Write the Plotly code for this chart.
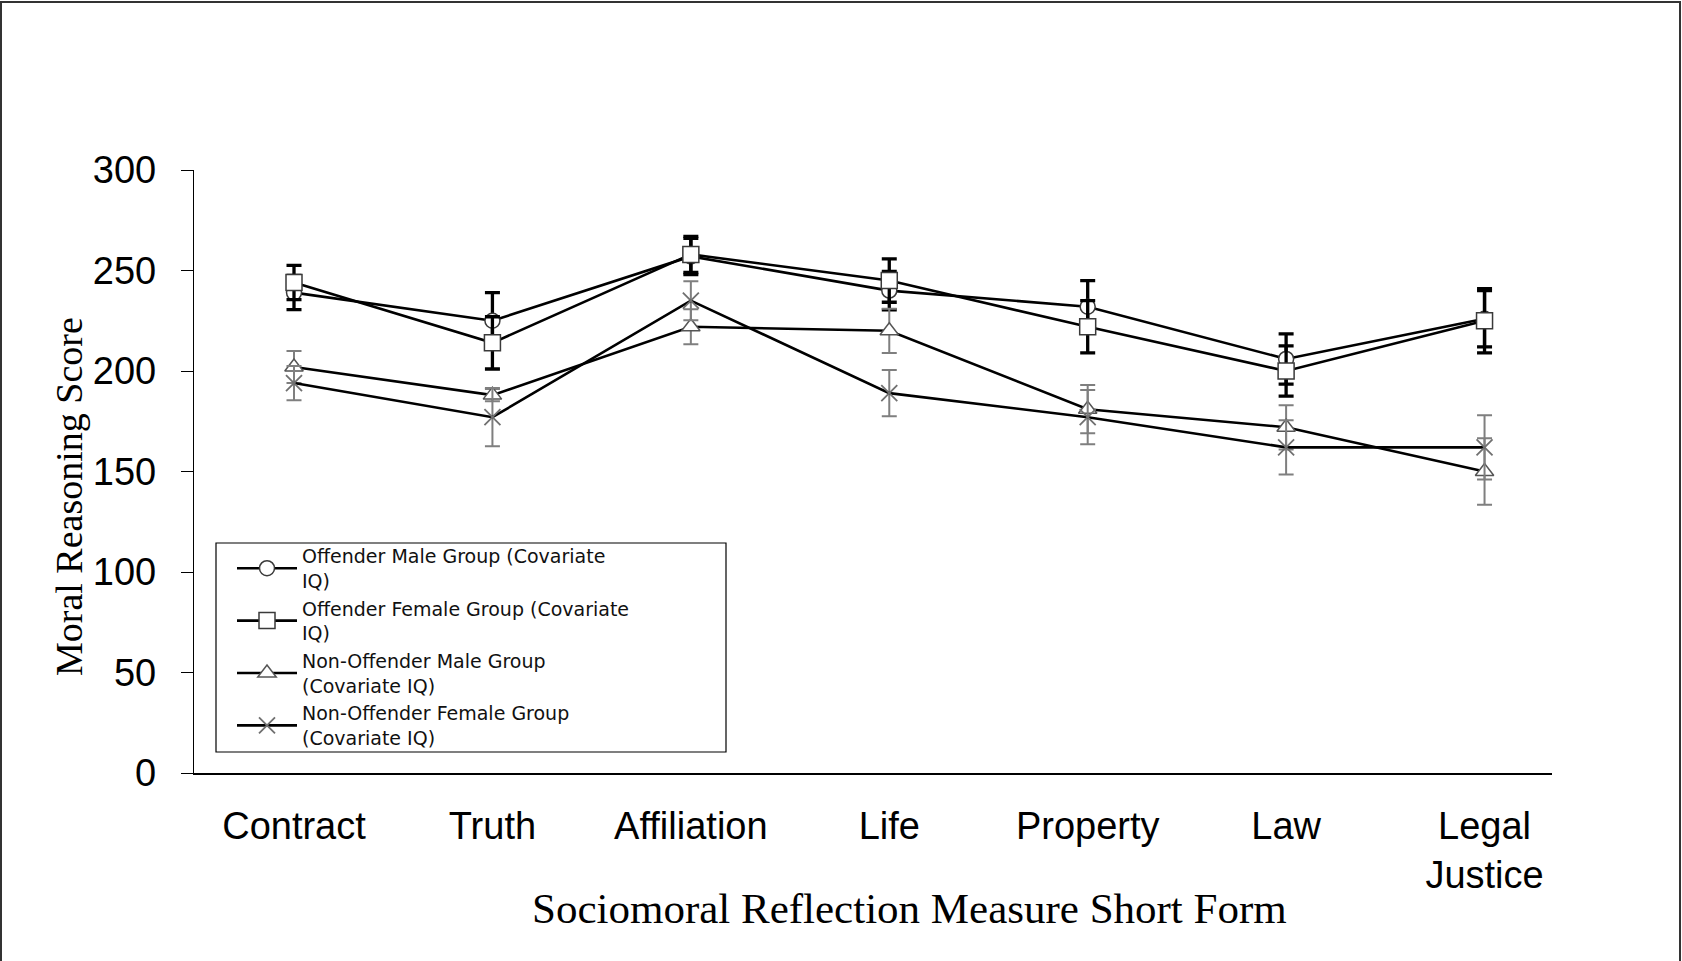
import plotly.graph_objects as go

categories = ["Contract", "Truth", "Affiliation", "Life", "Property", "Law", "Legal<br>Justice"]

offender_male = [239, 225, 257, 240, 232, 206, 226]
offender_male_err = [8.5, 14, 9, 9.6, 13, 12.5, 14]

offender_female = [244, 214, 258, 245, 222, 200, 225]
offender_female_err = [8.5, 13, 9, 10.8, 13, 12.5, 16]

nonoffender_male = [202, 188, 222, 220, 181, 172, 150]
nonoffender_male_err = [8, 3, 8.7, 11, 12, 11, 16.5]

nonoffender_female = [194, 177, 235, 189, 177, 162, 162]
nonoffender_female_err = [8.5, 14.5, 9.7, 11.5, 13.5, 13.5, 16]

series_names = [
    "Offender Male Group (Covariate<br>IQ)",
    "Offender Female Group (Covariate<br>IQ)",
    "Non-Offender Male Group<br>(Covariate IQ)",
    "Non-Offender Female Group<br>(Covariate IQ)",
]

y_ticks = [0, 50, 100, 150, 200, 250, 300]

W, H = 1682, 961
ML, MR, MT, MB = 194, 130, 170, 188
PW, PH = W - ML - MR, H - MT - MB


def px(xp):
    return (xp - ML) / PW


def py(yp):
    return (H - MB - yp) / PH


fig = go.Figure()

specs = [
    (offender_male, offender_male_err, series_names[0],
     dict(symbol="circle", size=15, color="white", line=dict(color="#3a3a3a", width=1.5)),
     dict(color="black", thickness=3.3, width=7.5)),
    (offender_female, offender_female_err, series_names[1],
     dict(symbol="square", size=16, color="white", line=dict(color="#3a3a3a", width=1.5)),
     dict(color="black", thickness=3.3, width=7.5)),
    (nonoffender_male, nonoffender_male_err, series_names[2],
     dict(symbol="triangle-up", size=16, color="white", line=dict(color="#555555", width=1.5)),
     dict(color="#7f7f7f", thickness=2, width=7.5)),
    (nonoffender_female, nonoffender_female_err, series_names[3],
     dict(symbol="x-thin", size=16, color="#707070", line=dict(color="#707070", width=1.8)),
     dict(color="#7f7f7f", thickness=2, width=7.5)),
]

for vals, errs, name, marker, err in specs:
    fig.add_trace(go.Scatter(
        x=categories, y=vals, name=name, mode="lines+markers",
        line=dict(color="black", width=2.6),
        marker=marker,
        error_y=dict(type="data", array=errs, visible=True, **err),
    ))

# legend box
fig.add_shape(type="rect", xref="paper", yref="paper",
              x0=px(216), x1=px(726), y0=py(752), y1=py(543),
              line=dict(color="black", width=1.2), fillcolor="white", layer="above")

# figure border
fig.add_shape(type="rect", xref="paper", yref="paper",
              x0=px(1), x1=px(1680), y0=py(975), y1=py(2),
              line=dict(color="#333333", width=2), fillcolor="rgba(0,0,0,0)", layer="above")

fig.add_annotation(text="Moral Reasoning Score", xref="paper", yref="paper",
                   x=px(69), y=py(496), textangle=-90, showarrow=False,
                   font=dict(family="Liberation Serif", size=38, color="black"),
                   xanchor="center", yanchor="middle")

fig.add_annotation(text="Sociomoral Reflection Measure Short Form", xref="paper", yref="paper",
                   x=px(909), y=py(908), showarrow=False,
                   font=dict(family="Liberation Serif", size=43, color="black"),
                   xanchor="center", yanchor="middle")

fig.update_layout(
    width=W, height=H,
    margin=dict(l=ML, r=MR, t=MT, b=MB, pad=0),
    paper_bgcolor="white", plot_bgcolor="white",
    showlegend=True,
    legend=dict(x=px(232), y=py(537), xanchor="left", yanchor="top",
                bgcolor="rgba(0,0,0,0)", borderwidth=0,
                font=dict(family="DejaVu Sans", size=19, color="#111111"),
                itemwidth=60, tracegroupgap=0),
    font=dict(family="Liberation Sans", color="black"),
)

fig.update_xaxes(
    type="category", range=[-0.504, 6.34],
    showline=True, linecolor="black", linewidth=2,
    ticks="", showgrid=False, zeroline=False,
    tickfont=dict(family="Liberation Sans", size=38, color="black"),
    ticklabelstandoff=18,
)
fig.update_yaxes(
    range=[0, 300], tickvals=y_ticks,
    showline=True, linecolor="black", linewidth=1.3,
    ticks="outside", ticklen=12, tickwidth=1.3, tickcolor="black",
    showgrid=False, zeroline=False,
    tickfont=dict(family="Liberation Sans", size=38, color="black"),
    ticklabelstandoff=17,
)

fig.write_html("out.html", config={"displayModeBar": False},
               post_script="document.body.style.margin='0px';")
